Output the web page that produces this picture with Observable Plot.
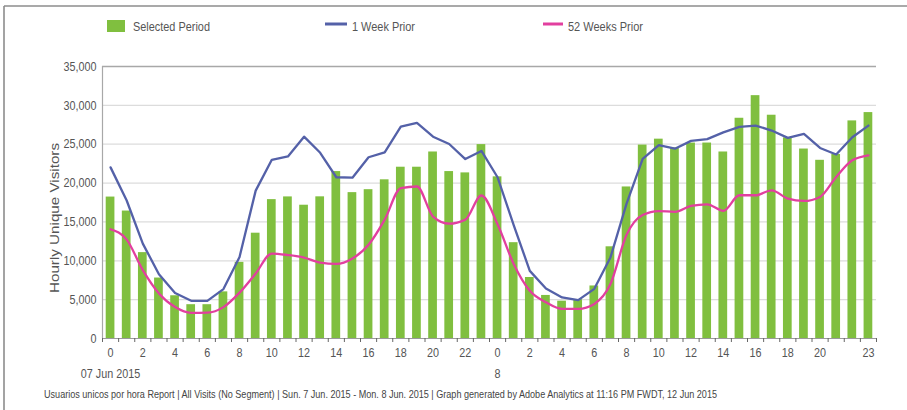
<!DOCTYPE html>
<html>
<head>
<meta charset="utf-8">
<script src="https://cdn.jsdelivr.net/npm/d3@7"></script>
<script src="https://cdn.jsdelivr.net/npm/@observablehq/plot@0.6"></script>
<style>
  html, body { margin: 0; padding: 0; background: #fff; }
  #wrap { position: relative; width: 907px; height: 410px; overflow: hidden; }
  #wrap > svg { position: absolute; left: 0; top: 0; }
  #overlay { pointer-events: none; }
</style>
</head>
<body>
<div id="wrap"></div>
<script>
// ---- data ----
const hourLabels = [
  "0","1","2","3","4","5","6","7","8","9","10","11","12","13","14","15","16","17","18","19","20","21","22","23",
  "0","1","2","3","4","5","6","7","8","9","10","11","12","13","14","15","16","17","18","19","20","21","22","23"
];
const labeledHours = [0,2,4,6,8,10,12,14,16,18,20,22,24,26,28,30,32,34,36,38,40,42,44,47];
const dayLabels = ["07 Jun 2015", "8"];
const dayStarts = [0, 24];
const selectedPeriod = [
  18200, 16400, 11050, 7780, 5500, 4350, 4350, 6000, 9800, 13550, 17870, 18220,
  17150, 18230, 21480, 18770, 19150, 20420, 22040, 22040, 24000, 21480, 21310, 24950,
  20800, 12330, 7850, 5540, 4800, 5000, 6760, 11800, 19500, 24890, 25650, 24530,
  25150, 25150, 24000, 28340, 31250, 28730, 25820, 24380, 22930, 23680, 28000, 29070
];
const weekPrior = [
  22020, 17760, 12210, 8270, 5850, 4850, 4850, 6360, 10500, 19030, 23000, 23420,
  25970, 23900, 20750, 20690, 23320, 23960, 27250, 27750, 25970, 25030, 23090, 24130,
  20750, 14600, 8700, 6430, 5280, 4940, 6390, 10430, 17350, 23100, 24870, 24420,
  25430, 25650, 26530, 27230, 27400, 26760, 25820, 26330, 24520, 23680, 25900, 27400
];
const yearPrior = [
  14060, 12720, 8800, 5800, 4050, 3300, 3330, 4040, 5900, 8370, 10930, 10740,
  10410, 9760, 9600, 10290, 12060, 15300, 19350, 19560, 15690, 14780, 15300, 18400,
  14700, 9600, 6140, 4660, 3810, 3810, 4450, 7000, 13350, 15890, 16400, 16300,
  17060, 17270, 16420, 18430, 18430, 19070, 18000, 17700, 18220, 20790, 22930, 23570
];
const yTicks = [0, 5000, 10000, 15000, 20000, 25000, 30000, 35000];
const seriesNames = ["Selected Period", "1 Week Prior", "52 Weeks Prior"];
const colors = { sel: "#80bf3f", wk: "#5461a8", yr: "#e23f9f" };

// ---- table ----
const rows = selectedPeriod.map((v, i) => ({ i, sel: v, wk: weekPrior[i], yr: yearPrior[i] }));
const boundaries = d3.range(rows.length + 1).map(k => k - 0.5);
const half = 0.27;
const font = '"Liberation Sans", Arial, sans-serif';

const chart = Plot.plot({
  width: 907,
  height: 410,
  marginLeft: 102,
  marginRight: 31,
  marginTop: 66,
  marginBottom: 72,
  style: { fontFamily: font, background: "transparent", overflow: "visible" },
  x: { type: "linear", domain: [-0.5, rows.length - 0.5] },
  y: { domain: [0, 35000] },
  marks: [
    Plot.ruleY(yTicks.slice(1, -1), { stroke: "#dcdcdc", strokeWidth: 1.2 }),
    Plot.ruleY([35000], { stroke: "#a8a8a8", strokeWidth: 1.4 }),
    Plot.rectY(rows, { x1: d => d.i - half, x2: d => d.i + half, y1: 0, y2: "sel", fill: colors.sel }),
    Plot.line(rows, { x: "i", y: "wk", stroke: colors.wk, strokeWidth: 2.3 }),
    Plot.line(rows, { x: "i", y: "yr", stroke: colors.yr, strokeWidth: 2.3, curve: "monotone-x" }),
    Plot.ruleY([0], { stroke: "#9a9a9a", strokeWidth: 1 }),
    Plot.ruleX([-0.5], { stroke: "#a8a8a8", strokeWidth: 1.2 }),
    Plot.axisY({ ticks: yTicks, tickFormat: d3.format(","), tickSize: 0, tickPadding: 6,
                 fontSize: 13, fill: "#555", label: null }),
    Plot.axisX({ ticks: boundaries, tickFormat: () => "", tickSize: 4, stroke: "#666", label: null }),
    Plot.axisX({ ticks: labeledHours, tickFormat: i => hourLabels[i], tickSize: 0, tickPadding: 9,
                 fontSize: 13, fill: "#555", label: null }),
    Plot.axisX({ ticks: dayStarts, tickFormat: i => dayLabels[dayStarts.indexOf(i)], tickSize: 0, tickPadding: 30,
                 fontSize: 13, fill: "#555", label: null })
  ]
});
document.getElementById("wrap").appendChild(chart);

// condense axis label glyphs (the original uses a narrow typeface)
chart.querySelectorAll('g[aria-label$="tick label"] text').forEach(t => {
  const w = t.getComputedTextLength();
  if (w > 0) {
    t.setAttribute("textLength", (w * 0.83).toFixed(2));
    t.setAttribute("lengthAdjust", "spacingAndGlyphs");
  }
});

// ---- overlay: frame, legend, axis title, footer ----
const ov = d3.select("#wrap").append("svg").attr("id", "overlay")
  .attr("width", 907).attr("height", 410);
ov.append("line").attr("x1", 4).attr("x2", 907).attr("y1", 6).attr("y2", 6).attr("stroke", "#8c8c8c").attr("stroke-width", 1.6);
ov.append("line").attr("x1", 4).attr("x2", 4).attr("y1", 6).attr("y2", 410).attr("stroke", "#8c8c8c").attr("stroke-width", 1.6);

const lg = ov.append("g").attr("font-family", font).attr("font-size", 12.5).attr("fill", "#555");
lg.append("rect").attr("x", 107).attr("y", 20).attr("width", 18).attr("height", 12).attr("fill", colors.sel);
lg.append("text").attr("x", 133).attr("y", 30.5).attr("textLength", 77).attr("lengthAdjust", "spacingAndGlyphs").text(seriesNames[0]);
lg.append("line").attr("x1", 325).attr("x2", 347).attr("y1", 24).attr("y2", 24).attr("stroke", colors.wk).attr("stroke-width", 3);
lg.append("text").attr("x", 352).attr("y", 30.5).attr("textLength", 63).attr("lengthAdjust", "spacingAndGlyphs").text(seriesNames[1]);
lg.append("line").attr("x1", 543).attr("x2", 563).attr("y1", 24).attr("y2", 24).attr("stroke", colors.yr).attr("stroke-width", 3);
lg.append("text").attr("x", 568).attr("y", 30.5).attr("textLength", 75).attr("lengthAdjust", "spacingAndGlyphs").text(seriesNames[2]);

ov.append("text").attr("transform", "translate(59,218) rotate(-90)")
  .attr("text-anchor", "middle").attr("font-family", font)
  .attr("font-size", 13.5).attr("fill", "#555")
  .attr("textLength", 150).attr("lengthAdjust", "spacingAndGlyphs")
  .text("Hourly Unique Visitors");

ov.append("text").attr("x", 44).attr("y", 398)
  .attr("font-family", font).attr("font-size", 11).attr("fill", "#444")
  .attr("textLength", 673).attr("lengthAdjust", "spacingAndGlyphs")
  .text("Usuarios unicos por hora Report | All Visits (No Segment) | Sun.  7 Jun. 2015 - Mon.  8 Jun. 2015 | Graph generated by Adobe Analytics at 11:16 PM FWDT, 12 Jun 2015");
</script>
</body>
</html>
